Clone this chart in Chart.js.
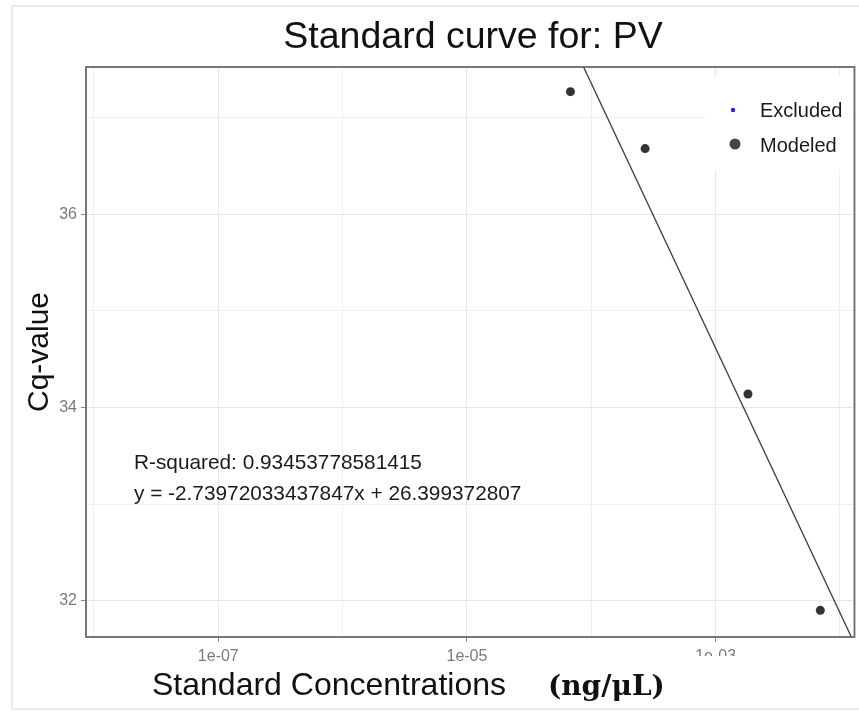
<!DOCTYPE html>
<html>
<head>
<meta charset="utf-8">
<title>Standard curve for: PV</title>
<script src="https://cdn.jsdelivr.net/npm/chart.js@4.4.1/dist/chart.umd.min.js"></script>
<style>
  html, body { margin: 0; padding: 0; background: #fff; }
  #wrap { width: 859px; height: 711px; }
</style>
</head>
<body>
<div id="wrap"><canvas id="grafico" width="859" height="711"></canvas></div>
<script>
// ====== DADOS ======
const concentracoes = [6.8e-5, 2.71e-4, 1.82e-3, 6.95e-3];   // ng/uL
const valoresCq = [37.27, 36.68, 34.14, 31.90];
const excluidosConc = [];
const excluidosCq = [];

const ajusteConc = [5e-5, 2e-2];
const ajusteCq = [38.18, 31.05];

const ticksX = [1e-8, 1e-7, 1e-6, 1e-5, 1e-4, 1e-3, 1e-2];
const rotulosX = { '1e-7': '1e-07', '1e-5': '1e-05', '1e-3': '1e-03' };
const ticksY = [32, 33, 34, 35, 36, 37];
const rotulosY = [32, 34, 36];

const textoR2 = 'R-squared: 0.93453778581415';
const textoEq = 'y = -2.73972033437847x + 26.399372807';

// ====== HELPERS ======
const fonte = '"Liberation Sans", Arial, sans-serif';
const isMajorX = v => rotulosX[v.toExponential().replace('+', '')] !== undefined;
const isMajorY = v => rotulosY.includes(v);

const pts = (xs, ys) => xs.map((x, i) => ({ x, y: ys[i] }));

// ====== TEXTOS / MOLDURA ======
const extras = {
  id: 'extras',
  beforeDraw(chart) {
    const c = chart.ctx;
    c.save();
    c.fillStyle = '#fff';
    c.fillRect(0, 0, chart.width, chart.height);
    c.strokeStyle = '#e4e4e4';
    c.lineWidth = 1.5;
    c.strokeRect(12, 6, 850, 703);
    c.restore();
  },
  afterDraw(chart) {
    const c = chart.ctx;
    const a = chart.chartArea;
    c.save();

    // legenda
    c.fillStyle = '#fff';
    c.fillRect(705, 76, a.right - 706, 94);
    c.fillStyle = '#2020ff';
    c.beginPath(); c.arc(733, 110, 2.2, 0, Math.PI * 2); c.fill();
    c.fillStyle = '#444';
    c.beginPath(); c.arc(735, 144, 5.5, 0, Math.PI * 2); c.fill();
    c.fillStyle = '#1a1a1a';
    c.font = '20px ' + fonte;
    c.textBaseline = 'middle';
    c.textAlign = 'left';
    c.fillText('Excluded', 760, 111);
    c.fillText('Modeled', 760, 146);

    // anotacao
    c.font = '20.8px ' + fonte;
    c.fillText(textoR2, 134, 463);
    c.fillText(textoEq, 134, 494);

    // borda do painel
    c.strokeStyle = '#6a6a6a';
    c.lineWidth = 1.8;
    c.strokeRect(a.left, a.top, a.right - a.left, a.bottom - a.top);

    // rotulo 1e-03 cortado
    c.fillStyle = '#fff';
    c.fillRect(690, 656, 60, 14);

    // titulo
    c.fillStyle = '#111';
    c.textAlign = 'center';
    c.font = '37.5px ' + fonte;
    c.fillText('Standard curve for: PV', 473, 38);

    // eixo x
    c.font = '32px ' + fonte;
    c.textAlign = 'left';
    c.fillText('Standard Concentrations', 152, 686);
    c.font = 'bold 28px "DejaVu Serif", "Liberation Serif", serif';
    c.fillText('(ng/\u03bcL)', 548, 688);

    // eixo y
    c.translate(40, 352);
    c.rotate(-Math.PI / 2);
    c.textAlign = 'center';
    c.font = '30px ' + fonte;
    c.fillText('Cq-value', 0, 0);
    c.restore();
  }
};

// ====== GRAFICO ======
const ctx = document.getElementById('grafico').getContext('2d');
const chart = new Chart(ctx, {
  type: 'scatter',
  data: {
    datasets: [
      {
        label: 'Excluded',
        data: pts(excluidosConc, excluidosCq),
        backgroundColor: '#2020ff',
        pointRadius: 2,
      },
      {
        label: 'Modeled',
        data: pts(concentracoes, valoresCq),
        backgroundColor: '#333',
        borderWidth: 0,
        pointRadius: 4.5,
      },
      {
        label: 'fit',
        type: 'line',
        data: pts(ajusteConc, ajusteCq),
        borderColor: '#3c3c3c',
        borderWidth: 1.3,
        pointRadius: 0,
        fill: false,
        clip: 0,
      },
    ],
  },
  options: {
    responsive: false,
    animation: false,
    layout: { padding: { left: 0, top: 67, right: 4, bottom: 0 } },
    plugins: {
      legend: { display: false },
      tooltip: { enabled: false },
    },
    scales: {
      x: {
        type: 'logarithmic',
        min: Math.pow(10, -8.064),
        max: Math.pow(10, -1.883),
        afterFit: s => { s.height = 74; },
        afterBuildTicks: s => { s.ticks = ticksX.map(value => ({ value })); },
        border: { display: false },
        grid: {
          color: c => isMajorX(c.tick.value) ? '#e6e6e6' : '#efefef',
          lineWidth: 1,
          tickLength: 5,
          tickColor: c => isMajorX(c.tick.value) ? '#888' : 'rgba(0,0,0,0)',
        },
        ticks: {
          autoSkip: false,
          maxRotation: 0,
          padding: 5,
          color: '#7a7a7a',
          font: { size: 16, family: fonte },
          callback: v => rotulosX[Number(v).toExponential().replace('+', '')] || '',
        },
      },
      y: {
        min: 31.624,
        max: 37.525,
        afterFit: s => { s.width = 86; },
        afterBuildTicks: s => { s.ticks = ticksY.map(value => ({ value })); },
        border: { display: false },
        grid: {
          color: c => isMajorY(c.tick.value) ? '#e6e6e6' : '#efefef',
          lineWidth: 1,
          tickLength: 5,
          tickColor: c => isMajorY(c.tick.value) ? '#888' : 'rgba(0,0,0,0)',
        },
        ticks: {
          autoSkip: false,
          padding: 4,
          color: '#7a7a7a',
          font: { size: 16, family: fonte },
          callback: v => rotulosY.includes(v) ? String(v) : '',
        },
      },
    },
  },
  plugins: [extras],
});
</script>
</body>
</html>
